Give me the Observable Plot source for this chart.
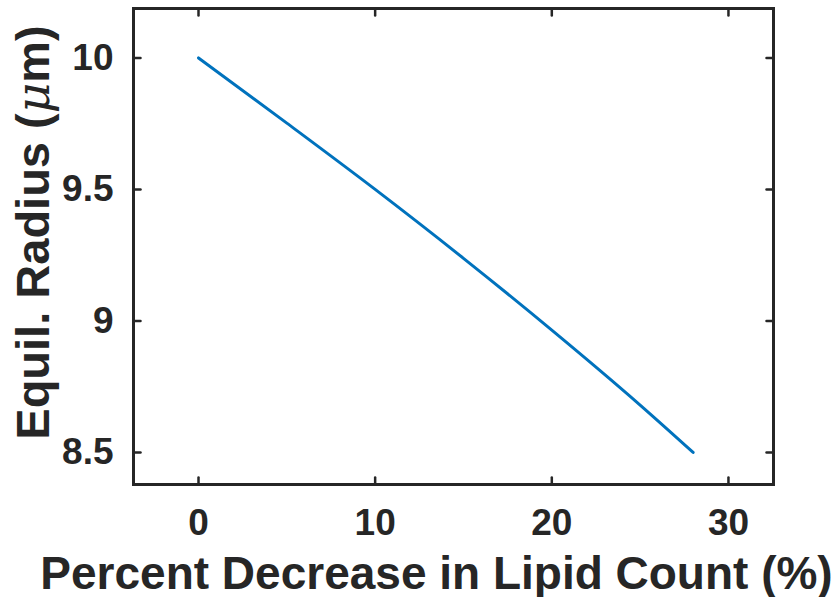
<!DOCTYPE html>
<html>
<head>
<meta charset="utf-8">
<script src="https://cdn.jsdelivr.net/npm/d3@7"></script>
<script src="https://cdn.jsdelivr.net/npm/@observablehq/plot@0.6"></script>
<style>
  html, body { margin: 0; padding: 0; background: #fff; }
</style>
</head>
<body>
<div id="chart"></div>
<script>
// Data
const lipidDecrease = [0, 5, 10, 15, 20, 25, 28];              // %
const equilRadius   = [10, 9.752, 9.50, 9.238, 8.965, 8.68, 8.5]; // µm

const xTicks = [0, 10, 20, 30];
const yTicks = [8.5, 9, 9.5, 10];
const yTickLabels = ["8.5", "9", "9.5", "10"];
const xDomain = [-3.68, 32.55];
const yDomain = [8.378, 10.188];
const xLabel = "Percent Decrease in Lipid Count (%)";
const yLabel = "Equil. Radius (μm)";

const data = lipidDecrease.map((x, i) => ({x, y: equilRadius[i]}));

const axisColor = "#262626";
const font = "'Liberation Sans', Arial, Helvetica, sans-serif";

// plain straight tick shape for vectors
const tickShape = {draw(context, l) { context.moveTo(0, 0); context.lineTo(0, -l); }};

const tickOpts = {length: 7, anchor: "start", shape: tickShape, stroke: axisColor, strokeWidth: 2.5};

const chart = Plot.plot({
  width: 839,
  height: 597,
  marginLeft: 133,
  marginRight: 66,
  marginTop: 8,
  marginBottom: 113,
  style: {fontFamily: font, fontWeight: "bold", color: axisColor, background: "#fff", overflow: "visible"},
  x: {domain: xDomain, ticks: xTicks},
  y: {domain: yDomain, ticks: yTicks},
  marks: [
    Plot.axisX(xTicks, {tickSize: 0, tickPadding: 24, fontSize: 37, label: null, fill: axisColor}),
    Plot.axisY(yTicks, {tickSize: 0, tickPadding: 20, fontSize: 37, label: null, fill: axisColor,
      tickFormat: d => yTickLabels[yTicks.indexOf(d)]}),
    // inward ticks on all four sides (MATLAB style)
    Plot.vector(xTicks, {x: d => d, y: yDomain[0], rotate: 0, ...tickOpts}),
    Plot.vector(xTicks, {x: d => d, y: yDomain[1], rotate: 180, ...tickOpts}),
    Plot.vector(yTicks, {y: d => d, x: xDomain[0], rotate: 90, ...tickOpts}),
    Plot.vector(yTicks, {y: d => d, x: xDomain[1], rotate: -90, ...tickOpts}),
    Plot.line(data, {x: "x", y: "y", stroke: "#0072BD", strokeWidth: 3, curve: "monotone-x"}),
    Plot.frame({stroke: axisColor, strokeWidth: 3}),
    Plot.text([xLabel], {text: d => d, frameAnchor: "bottom", textAnchor: "middle", lineAnchor: "bottom", dy: 104, dx: -17, fontSize: 46, fontWeight: "bold", fill: axisColor}),
    Plot.text([yLabel], {text: d => d, frameAnchor: "left", textAnchor: "middle", lineAnchor: "middle", rotate: -90, dx: -100, dy: -14, fontSize: 47, fontWeight: "bold", fill: axisColor})
  ]
});

document.getElementById("chart").appendChild(chart);

// Render μ in italic serif like MATLAB's TeX interpreter
d3.select(chart).selectAll("text").each(function () {
  const t = this.textContent;
  if (t === yLabel) {
    const el = d3.select(this);
    el.text(null);
    const [pre, post] = t.split("μ");
    el.append("tspan").text(pre);
    el.append("tspan").attr("font-style", "italic").attr("font-family", "'DejaVu Serif', 'Liberation Serif', serif").attr("font-weight", "normal").text("μ");
    el.append("tspan").text(post);
  }
});
</script>
</body>
</html>
